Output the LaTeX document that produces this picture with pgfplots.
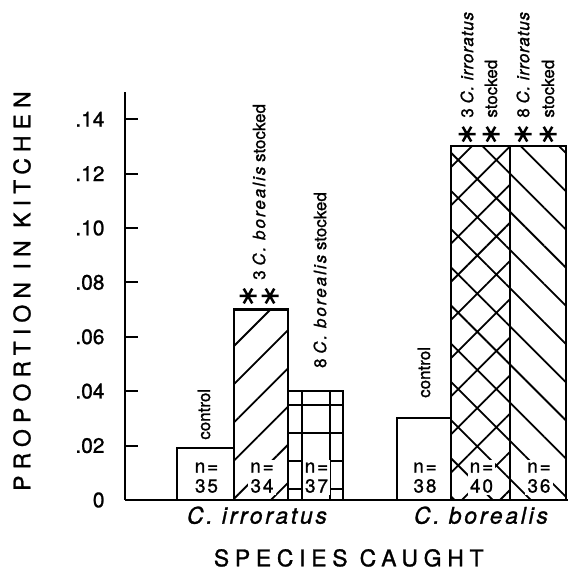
\documentclass[border=0pt]{standalone}
\usepackage{fontspec}
\setmainfont{TeX Gyre Heros}[FakeBold=1.2]
\usepackage{pgfplots}
\pgfplotsset{compat=1.18}
\usetikzlibrary{patterns.meta}
\newcommand{\sz}[1]{\fontsize{#1}{#1}\selectfont}
\newcommand{\spit}[1]{{\itshape\addfontfeature{LetterSpace=12}#1}}
\newcommand{\spitt}[1]{{\itshape\addfontfeature{LetterSpace=5}#1}}
\newcommand{\spup}[1]{{\addfontfeature{LetterSpace=25}#1}}
\begin{document}
\begin{tikzpicture}
\begin{axis}[
  at={(125bp,80bp)}, anchor=south west,
  scale only axis, width=443bp, height=408bp,
  xmin=0, xmax=443, ymin=0, ymax=0.15,
  axis lines=left,
  axis line style={-, line width=2.4bp, black},
  clip=false,
  /pgf/number format/assume math mode=true,
  ytick={0,0.02,0.04,0.06,0.08,0.10,0.12,0.14},
  yticklabels={0,.02,.04,.06,.08,.10,.12,.14},
  tick align=inside, major tick length=13bp,
  ytick style={line width=2bp, black},
  xtick={132,356},
  xticklabels={\spit{C. irroratus},\spit{C. borealis}},
  xtick style={draw=none},
  y tick label style={font=\sz{21}, xshift=-17bp},
  x tick label style={font=\sz{23}, yshift=-3bp},
  xlabel={\spup{SPECIES CAUGHT}},
  xlabel style={at={(axis description cs:0.505,-0.142)}, anchor=center, font=\sz{23}},
  ylabel={{\addfontfeature{LetterSpace=27}PROPORTION IN KITCHEN}},
  ylabel style={at={(axis description cs:-0.2325,0.512)}, anchor=center, font=\sz{23}},
]
% bars
\addplot[ybar, bar width=57, bar shift=0pt, draw=black, line width=2.2bp, fill=white] coordinates {(80.5,0.019)};
\addplot[ybar, bar width=54, bar shift=0pt, draw=black, line width=2.2bp,
  pattern={Lines[angle=45,distance=27bp,line width=1.8bp]}] coordinates {(136,0.07)};
\addplot[ybar, bar width=55, bar shift=0pt, draw=black, line width=2.2bp,
  pattern={Hatch[angle=0,distance=28bp,line width=1.8bp,xshift=22bp,yshift=7bp]}] coordinates {(190.5,0.04)};
\addplot[ybar, bar width=54, bar shift=0pt, draw=black, line width=2.2bp, fill=white] coordinates {(299,0.03)};
\addplot[ybar, bar width=59, bar shift=0pt, draw=black, line width=2.2bp,
  pattern={Hatch[angle=45,distance=27bp,line width=1.8bp]}] coordinates {(355.5,0.13)};
\addplot[ybar, bar width=56, bar shift=0pt, draw=black, line width=2.2bp,
  pattern={Lines[angle=-45,distance=27bp,line width=1.8bp]}] coordinates {(413,0.13)};
% asterisks
\addplot[only marks, mark=asterisk, mark size=8.5bp, line width=2.5bp, mark options={rotate=90}]
  coordinates {(123,0.075) (145,0.075) (342,0.1345) (366,0.1345) (398,0.1345) (423,0.1345)};
% n labels
\foreach \xx/\nn in {80.5/35,136/34,190.5/37,299/38,355.5/40,413/36}{
  \edef\tmp{\noexpand\node[fill=white, inner sep=2bp, align=center, anchor=south,
    font=\noexpand\fontsize{19}{20}\noexpand\selectfont\noexpand\addfontfeature{LetterSpace=10}] at (axis cs:\xx,0) [yshift=5bp,xshift=1bp] {n=\noexpand\\\nn};}
  \tmp
}
% annotations
\node[rotate=90, anchor=west, inner sep=0, font=\sz{17}] at (axis cs:79,0.0221) {control};
\node[rotate=90, anchor=west, inner sep=0, font=\sz{17}] at (axis cs:134,0.0809) {3 \spit{C. borealis} stocked};
\node[rotate=90, anchor=west, inner sep=0, font=\sz{17}] at (axis cs:195,0.0485) {8 \spit{C. borealis} stocked};
\node[rotate=90, anchor=west, inner sep=0, font=\sz{17}] at (axis cs:299,0.0375) {control};
\node[rotate=90, anchor=west, inner sep=0, font=\sz{17}] at (axis cs:342,0.1405) {3 \spitt{C. irroratus}};
\node[rotate=90, anchor=west, inner sep=0, font=\sz{17}] at (axis cs:366,0.1405) {stocked};
\node[rotate=90, anchor=west, inner sep=0, font=\sz{17}] at (axis cs:398,0.1405) {8 \spitt{C. irroratus}};
\node[rotate=90, anchor=west, inner sep=0, font=\sz{17}] at (axis cs:423,0.1405) {stocked};
\end{axis}
\pgfresetboundingbox
\useasboundingbox (0,0) rectangle (570bp,580bp);
\end{tikzpicture}
\end{document}
